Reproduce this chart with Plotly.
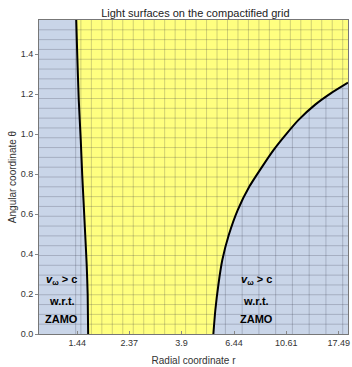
import numpy as np
import plotly.graph_objects as go

# Inner light surface: polar angle (rad) and radius
LEFT_THETA = [0.0, 0.195, 0.345, 0.495, 0.645, 0.795, 0.97, 1.17, 1.395, 1.5708]
LEFT_R = [1.599, 1.592, 1.577, 1.555, 1.533, 1.511, 1.490, 1.462, 1.441, 1.427]

# Outer light surface: polar angle (rad) and radius
RIGHT_THETA = [0.0, 0.12, 0.245, 0.37, 0.495, 0.62, 0.74, 0.84, 0.92, 0.995,
               1.07, 1.1475, 1.205, 1.2575]
RIGHT_R = [5.286, 5.387, 5.543, 5.757, 6.123, 6.669, 7.474, 8.454, 9.385, 10.516,
           11.897, 13.98, 16.27, 19.12]

X_TICKS = [1.44, 2.37, 3.9, 6.44, 10.61, 17.49]
X_TICK_TEXT = ["1.44", "2.37", "3.9", "6.44", "10.61", "17.49"]
Y_TICKS = [0.0, 0.2, 0.4, 0.6, 0.8, 1.0, 1.2, 1.4]

R_MIN, R_MAX = 1.0, 19.12
TH_MAX = np.pi / 2

YELLOW = "#FFFF80"
BLUE = "#C9D5E8"
FONT = "Liberation Sans, Arial, sans-serif"

fig = go.Figure()

# superluminal region inside the inner light surface
fig.add_trace(go.Scatter(
    x=[R_MIN] + LEFT_R + [R_MIN], y=[0.0] + LEFT_THETA + [TH_MAX],
    fill="toself", fillcolor=BLUE, mode="none", hoverinfo="skip"))

# superluminal region outside the outer light surface
fig.add_trace(go.Scatter(
    x=RIGHT_R + [R_MAX, R_MAX], y=RIGHT_THETA + [RIGHT_THETA[-1], 0.0],
    fill="toself", fillcolor=BLUE, mode="none", hoverinfo="skip"))


def in_yellow(r, th):
    """True where (r, th) lies between the two light surfaces."""
    r_in = np.interp(th, LEFT_THETA, LEFT_R)
    r_out = np.where(th <= RIGHT_THETA[-1],
                     np.exp(np.interp(th, RIGHT_THETA, np.log(RIGHT_R))), np.inf)
    return (r > r_in) & (r < r_out)


def vertical_segments(r_values, want_yellow):
    th = np.linspace(0.0, TH_MAX, 600)
    xs, ys = [], []
    for r in r_values:
        mask = in_yellow(r, th) == want_yellow
        for t, m in zip(th, mask):
            xs.append(r if m else None)
            ys.append(t if m else None)
        xs.append(None)
        ys.append(None)
    return xs, ys


# computational mesh: rows of constant theta everywhere
gx, gy = [], []
for th in np.arange(1, 32) * np.pi / 64:
    gx += [R_MIN, R_MAX, None]
    gy += [th, th, None]
# columns: dense between the surfaces, sparser in the superluminal zones
yx, yy = vertical_segments(np.exp(np.arange(0.1, np.log(R_MAX), 0.1)), True)
bx, by = vertical_segments(np.exp(np.arange(1.62, np.log(R_MAX), 0.16)), False)
lx, ly = vertical_segments(np.exp(np.array([0.35, 0.40])), False)
gx += yx + bx + lx
gy += yy + by + ly
fig.add_trace(go.Scatter(x=gx, y=gy, mode="lines", connectgaps=False,
                         line=dict(color="rgba(40,40,60,0.22)", width=1),
                         hoverinfo="skip"))

# light surface boundaries
for xs, ys in ((LEFT_R, LEFT_THETA), (RIGHT_R, RIGHT_THETA)):
    fig.add_trace(go.Scatter(x=xs, y=ys, mode="lines",
                             line=dict(color="black", width=2, shape="spline",
                                       smoothing=0.5),
                             hoverinfo="skip"))

label = "<b><i>v</i><sub>ω</sub> &gt; c</b>"
for xc in (1.244, 7.95):
    for txt, yv in ((label, 0.27), ("<b>w.r.t.</b>", 0.165), ("<b>ZAMO</b>", 0.075)):
        fig.add_annotation(x=np.log10(xc), y=yv, text=txt, showarrow=False,
                           font=dict(family=FONT, size=11, color="black"))

fig.update_layout(
    width=352, height=367,
    margin=dict(l=39, r=2, t=20, b=33),
    paper_bgcolor="white", plot_bgcolor=YELLOW,
    showlegend=False,
    font=dict(family=FONT, size=9, color="#333333"),
    title=dict(text="Light surfaces on the compactified grid", x=0.555, xanchor="center",
               y=0.975, yanchor="top", font=dict(family=FONT, size=11, color="#222222")),
)
fig.update_xaxes(type="log", range=[np.log10(R_MIN), np.log10(R_MAX)],
                 tickvals=X_TICKS, ticktext=X_TICK_TEXT, showgrid=False,
                 zeroline=False, ticks="inside", ticklen=3, tickcolor="#888888",
                 showline=True, linecolor="#777777", mirror=True,
                 title=dict(text="Radial coordinate r", standoff=10,
                            font=dict(family=FONT, size=10, color="#333333")))
fig.update_yaxes(range=[0, TH_MAX], tickvals=Y_TICKS,
                 ticktext=[f"{v:.1f}" for v in Y_TICKS], showgrid=False,
                 zeroline=False, ticks="outside", ticklen=3, tickcolor="#888888",
                 showline=True, linecolor="#777777", mirror=True,
                 title=dict(text="Angular coordinate θ", standoff=2,
                            font=dict(family=FONT, size=10, color="#333333")))

fig.write_html("out.html")
